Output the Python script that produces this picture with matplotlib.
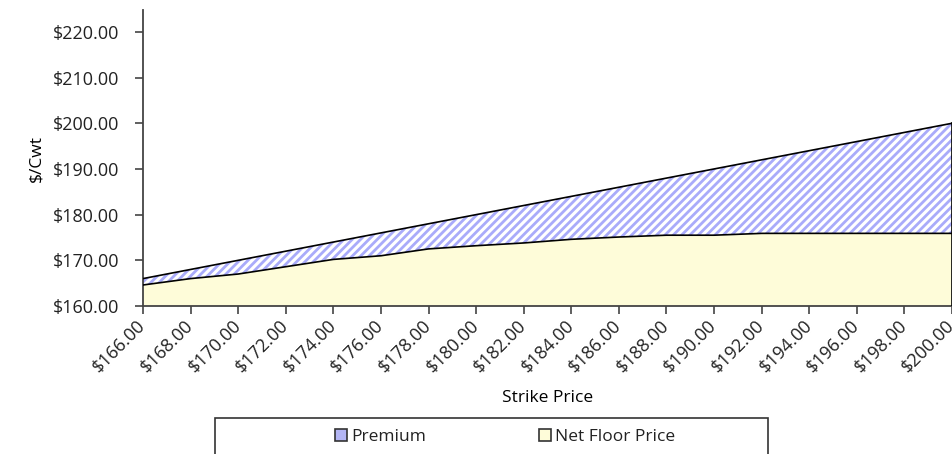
import matplotlib

matplotlib.use("Agg")
import matplotlib.pyplot as plt
from matplotlib.patches import Patch, Rectangle

# strike prices ($/cwt) and the net floor price
strikes = [166, 168, 170, 172, 174, 176, 178, 180, 182, 184,
           186, 188, 190, 192, 194, 196, 198, 200]
net_floor = [164.6, 166.0, 167.0, 168.6, 170.2, 171.0, 172.5, 173.2, 173.8, 174.6,
             175.1, 175.5, 175.5, 175.9, 175.9, 175.9, 175.9, 175.9]
premium = [s - f for s, f in zip(strikes, net_floor)]
y_ticks = [160, 170, 180, 190, 200, 210, 220]

YELLOW = "#fefcd9"
HATCH = "#a9abfa"
INK = "#222222"

plt.rcParams.update({
    "font.family": "Open Sans", "font.size": 13, "text.color": INK,
    "xtick.color": INK, "ytick.color": INK, "hatch.linewidth": 2.0,
})

fig = plt.figure(figsize=(9.53, 4.54), dpi=100)
ax = fig.add_axes([143 / 953, 148 / 454, 809 / 953, 296 / 454])

x = list(range(len(strikes)))
top = [f + p for f, p in zip(net_floor, premium)]
base = y_ticks[0]

# net floor price area
ax.fill_between(x, base, net_floor, facecolor=YELLOW, edgecolor="none", zorder=2)
# premium area stacked on top, hatched
ax.fill_between(x, net_floor, top, facecolor="white", edgecolor=HATCH, hatch="////",
                linewidth=0, zorder=2)
ax.plot(x, net_floor, color="black", linewidth=1.2, zorder=3)
ax.plot(x, top, color="black", linewidth=1.2, zorder=3)
ax.plot([x[-1], x[-1]], [base, top[-1]], color="black", linewidth=1.2, zorder=3)

ax.set_xlim(x[0], x[-1])
ax.set_ylim(base, 224.8)
ax.set_yticks(y_ticks)
ax.set_yticklabels([f"${v:.2f}" for v in y_ticks])
ax.set_xticks(x)
ax.set_xticklabels([f"${v:.2f}" for v in strikes], rotation=45, ha="right",
                   rotation_mode="anchor", va="center")
ax.tick_params(axis="y", length=6, width=1.2, pad=11, color="#444444")
ax.tick_params(axis="x", length=6, width=1.2, pad=6, color="#444444")

for s in ("top", "right"):
    ax.spines[s].set_visible(False)
for s in ("left", "bottom"):
    ax.spines[s].set_color("#444444")
    ax.spines[s].set_linewidth(1.3)

ax.set_xlabel("Strike Price", fontsize=12.5)
ax.xaxis.set_label_coords(0.5, -0.285)
ax.set_ylabel("$/Cwt", fontsize=12.5)
ax.yaxis.set_label_coords(-0.122, 0.5)

# legend: frameless entries plus a plain box behind them
handles = [
    Patch(facecolor="#b3b5f4", edgecolor="#333333", linewidth=1.2),
    Patch(facecolor=YELLOW, edgecolor="#333333", linewidth=1.2),
]
fig.legend(handles, ["Premium", "Net Floor Price"], loc="center",
           bbox_to_anchor=(505 / 953, 1 - 437 / 454), ncol=2, frameon=False,
           handlelength=0.7, handleheight=0.7, handletextpad=0.25,
           columnspacing=6.5, fontsize=12.5)
fig.add_artist(Rectangle((215 / 953, -0.02), 553 / 953, 0.02 + 36 / 454,
                         transform=fig.transFigure, facecolor="none",
                         edgecolor="#333333", linewidth=1.2))

fig.savefig("out.png", dpi=100)
